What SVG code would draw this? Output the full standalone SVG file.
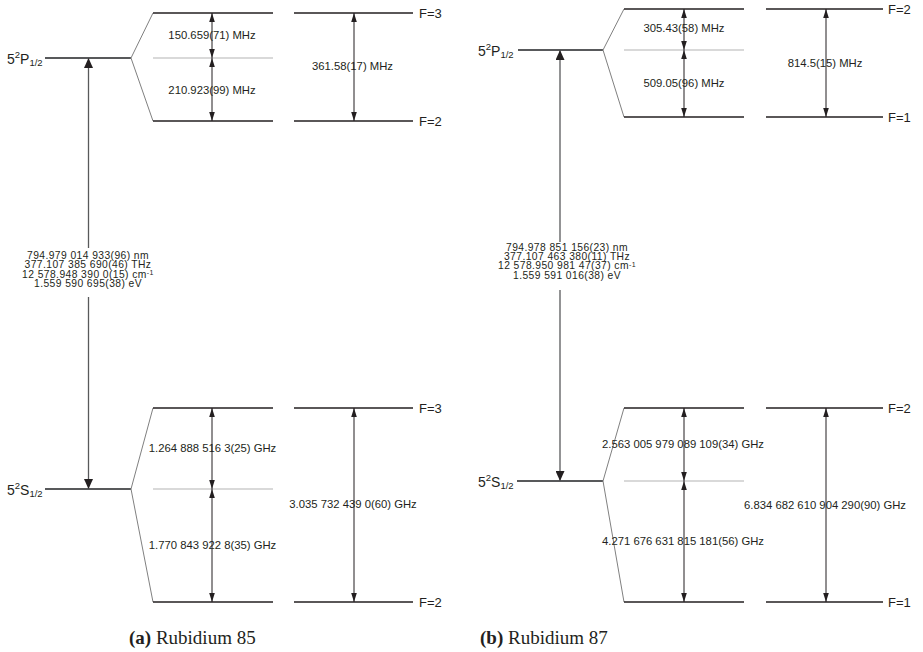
<svg xmlns="http://www.w3.org/2000/svg" width="923" height="652" viewBox="0 0 923 652">
<style>
text{font-family:"Liberation Sans",Arial,sans-serif;fill:#231f20}
.v{font-size:11.3px;text-anchor:middle}
.m{font-size:10.3px;letter-spacing:0.42px;text-anchor:middle}
.f{font-size:13px}
.t{font-size:14px}
.cap{font-family:"Liberation Serif","Times New Roman",serif;font-size:19px}
.lv{stroke:#231f20;stroke-width:1.4;fill:none}
.mid{stroke:#b3b3b3;stroke-width:1.2;fill:none}
.main{stroke:#58595b;stroke-width:2;fill:none}
.sp{stroke:#808080;stroke-width:1;fill:none}
.ar{stroke:#231f20;stroke-width:1;fill:none;marker-start:url(#sa);marker-end:url(#sa)}
.ma{stroke:#58595b;stroke-width:1.3;fill:none}
</style>
<defs>
<marker id="sa" markerUnits="userSpaceOnUse" markerWidth="9" markerHeight="6" refX="8" refY="2.5" orient="auto-start-reverse" viewBox="0 0 8 5"><path d="M0,0 L8,2.5 L0,5 z" fill="#231f20"/></marker>
<marker id="ba" markerUnits="userSpaceOnUse" markerWidth="10" markerHeight="9" refX="10" refY="4.5" orient="auto" viewBox="0 0 10 9"><path d="M0,0 L10,4.5 L0,9 z" fill="#231f20"/></marker>
</defs>

<!-- Panel A: Rubidium 85 -->
<g id="a-P">
<text class="t" x="7" y="64">5<tspan font-size="9.5" dy="-6">2</tspan><tspan dy="6">P</tspan><tspan font-size="9.5" dy="2">1/2</tspan></text>
<line class="main" x1="45" y1="58" x2="131" y2="58"/>
<polyline class="sp" points="153,13 131,58 153,121"/>
</g>
<g id="a-P-hf">
<line class="lv" x1="153" y1="13" x2="273" y2="13"/>
<line class="mid" x1="153" y1="58" x2="273" y2="58"/>
<line class="lv" x1="153" y1="121" x2="273" y2="121"/>
</g>
<g id="a-P-F3">
<line class="lv" x1="294" y1="13" x2="413" y2="13"/>
<text class="f" x="419" y="17.5">F=3</text>
</g>
<g id="a-P-F2">
<line class="lv" x1="294" y1="121" x2="413" y2="121"/>
<text class="f" x="419" y="125.5">F=2</text>
</g>
<g id="a-S">
<text class="t" x="7" y="495">5<tspan font-size="9.5" dy="-6">2</tspan><tspan dy="6">S</tspan><tspan font-size="9.5" dy="2">1/2</tspan></text>
<line class="main" x1="45" y1="489" x2="131" y2="489"/>
<polyline class="sp" points="153,408 131,489 153,602"/>
</g>
<g id="a-S-hf">
<line class="lv" x1="153" y1="408" x2="273" y2="408"/>
<line class="mid" x1="153" y1="489" x2="273" y2="489"/>
<line class="lv" x1="153" y1="602" x2="273" y2="602"/>
</g>
<g id="a-S-F3">
<line class="lv" x1="294" y1="408" x2="413" y2="408"/>
<text class="f" x="419" y="412.5">F=3</text>
</g>
<g id="a-S-F2">
<line class="lv" x1="294" y1="602" x2="413" y2="602"/>
<text class="f" x="419" y="606.5">F=2</text>
</g>

<!-- Panel B: Rubidium 87 -->
<g id="b-P">
<text class="t" x="478" y="56">5<tspan font-size="9.5" dy="-6">2</tspan><tspan dy="6">P</tspan><tspan font-size="9.5" dy="2">1/2</tspan></text>
<line class="main" x1="518" y1="50" x2="603" y2="50"/>
<polyline class="sp" points="624,9 603,50 624,117"/>
</g>
<g id="b-P-hf">
<line class="lv" x1="624" y1="9" x2="744" y2="9"/>
<line class="mid" x1="624" y1="50" x2="744" y2="50"/>
<line class="lv" x1="624" y1="117" x2="744" y2="117"/>
</g>
<g id="b-P-F2">
<line class="lv" x1="766" y1="9" x2="883" y2="9"/>
<text class="f" x="888" y="13.5">F=2</text>
</g>
<g id="b-P-F1">
<line class="lv" x1="766" y1="117" x2="883" y2="117"/>
<text class="f" x="888" y="121.5">F=1</text>
</g>
<g id="b-S">
<text class="t" x="478" y="487">5<tspan font-size="9.5" dy="-6">2</tspan><tspan dy="6">S</tspan><tspan font-size="9.5" dy="2">1/2</tspan></text>
<line class="main" x1="517" y1="481" x2="603" y2="481"/>
<polyline class="sp" points="624,408 603,481 624,602"/>
</g>
<g id="b-S-hf">
<line class="lv" x1="624" y1="408" x2="744" y2="408"/>
<line class="mid" x1="624" y1="481" x2="744" y2="481"/>
<line class="lv" x1="624" y1="602" x2="744" y2="602"/>
</g>
<g id="b-S-F2">
<line class="lv" x1="766" y1="408" x2="883" y2="408"/>
<text class="f" x="888" y="412.5">F=2</text>
</g>
<g id="b-S-F1">
<line class="lv" x1="766" y1="602" x2="883" y2="602"/>
<text class="f" x="888" y="606.5">F=1</text>
</g>

<!-- Connectors -->
<g id="connectors">
<line class="ar" x1="212" y1="13" x2="212" y2="58"/>
<line class="ar" x1="212" y1="58" x2="212" y2="121"/>
<line class="ar" x1="354" y1="13" x2="354" y2="121"/>
<line class="ar" x1="212" y1="408" x2="212" y2="489"/>
<line class="ar" x1="212" y1="489" x2="212" y2="602"/>
<line class="ar" x1="354" y1="408" x2="354" y2="602"/>
<line class="ma" x1="88.5" y1="248" x2="88.5" y2="58" marker-end="url(#ba)"/>
<line class="ma" x1="88.5" y1="297" x2="88.5" y2="489" marker-end="url(#ba)"/>

<line class="ar" x1="684" y1="9" x2="684" y2="50"/>
<line class="ar" x1="684" y1="50" x2="684" y2="117"/>
<line class="ar" x1="826" y1="9" x2="826" y2="117"/>
<line class="ar" x1="684" y1="408" x2="684" y2="481"/>
<line class="ar" x1="684" y1="481" x2="684" y2="602"/>
<line class="ar" x1="826" y1="408" x2="826" y2="602"/>
<line class="ma" x1="560" y1="242" x2="560" y2="50" marker-end="url(#ba)"/>
<line class="ma" x1="560" y1="290" x2="560" y2="481" marker-end="url(#ba)"/>
</g>

<!-- Labels -->
<g id="labels-a">
<text class="v" x="212" y="39">150.659(71) MHz</text>
<text class="v" x="212" y="94">210.923(99) MHz</text>
<text class="v" x="352.5" y="70">361.58(17) MHz</text>
<text class="v" x="212.5" y="452">1.264 888 516 3(25) GHz</text>
<text class="v" x="212.5" y="549">1.770 843 922 8(35) GHz</text>
<text class="v" x="353" y="508">3.035 732 439 0(60) GHz</text>
<text class="m" x="88" y="258.6">794.979 014 933(96) nm</text>
<text class="m" x="88" y="268">377.107 385 690(46) THz</text>
<text class="m" x="88" y="277.8">12 578.948 390 0(15) cm<tspan font-size="7" dy="-2.5">-1</tspan></text>
<text class="m" x="88" y="287.2">1.559 590 695(38) eV</text>
</g>
<g id="labels-b">
<text class="v" x="684" y="32">305.43(58) MHz</text>
<text class="v" x="684" y="87">509.05(96) MHz</text>
<text class="v" x="825" y="67">814.5(15) MHz</text>
<text class="v" x="683" y="448">2.563 005 979 089 109(34) GHz</text>
<text class="v" x="683" y="545">4.271 676 631 815 181(56) GHz</text>
<text class="v" x="825" y="509">6.834 682 610 904 290(90) GHz</text>
<text class="m" x="567" y="250.6">794.978 851 156(23) nm</text>
<text class="m" x="567" y="260">377.107 463 380(11) THz</text>
<text class="m" x="567" y="269.4">12 578.950 981 47(37) cm<tspan font-size="7" dy="-2.5">-1</tspan></text>
<text class="m" x="567" y="278.8">1.559 591 016(38) eV</text>
</g>

<g id="captions">
<text class="cap" x="129" y="644"><tspan font-weight="bold">(a)</tspan> Rubidium 85</text>
<text class="cap" x="480" y="644"><tspan font-weight="bold">(b)</tspan> Rubidium 87</text>
</g>
</svg>
